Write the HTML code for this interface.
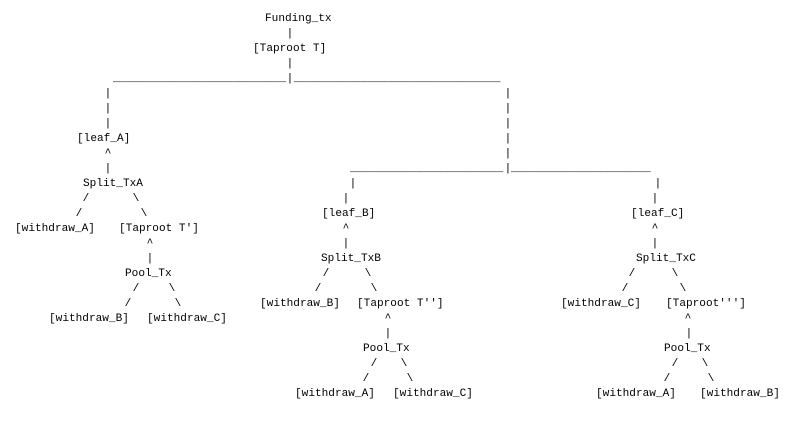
<!DOCTYPE html>
<html><head><meta charset="utf-8"><style>
html,body{margin:0;padding:0;background:#fff;}
#c{position:relative;width:807px;height:426px;overflow:hidden;font-family:"Liberation Mono",monospace;font-size:11.1px;line-height:15px;color:#000;}
#c span{position:absolute;white-space:pre;}
#c span.s{width:8px;text-align:center;margin-left:-4px;}
</style></head><body><div id="c">
<span style="left:265px;top:11.5px">Funding_tx</span>
<span class="s" style="left:290px;top:26.5px">|</span>
<span style="left:253px;top:41.5px">[Taproot T]</span>
<span class="s" style="left:290px;top:56.5px">|</span>
<span style="left:113px;top:71.5px">__________________________</span>
<span class="s" style="left:290px;top:71.5px">|</span>
<span style="left:294px;top:71.5px">_______________________________</span>
<span class="s" style="left:108px;top:86.5px">|</span>
<span class="s" style="left:108px;top:101.5px">|</span>
<span class="s" style="left:108px;top:116.5px">|</span>
<span class="s" style="left:508px;top:86.5px">|</span>
<span class="s" style="left:508px;top:101.5px">|</span>
<span class="s" style="left:508px;top:116.5px">|</span>
<span class="s" style="left:508px;top:131.5px">|</span>
<span class="s" style="left:508px;top:146.5px">|</span>
<span class="s" style="left:508px;top:161.5px">|</span>
<span style="left:77px;top:131.5px">[leaf_A]</span>
<span class="s" style="left:108px;top:146.5px">^</span>
<span class="s" style="left:108px;top:161.5px">|</span>
<span style="left:350px;top:161.5px">_______________________</span>
<span style="left:511px;top:161.5px">_____________________</span>
<span style="left:83px;top:176.5px">Split_TxA</span>
<span class="s" style="left:353px;top:176.5px">|</span>
<span class="s" style="left:658px;top:176.5px">|</span>
<span class="s" style="left:86px;top:191.5px">/</span>
<span class="s" style="left:136px;top:191.5px">\</span>
<span class="s" style="left:346px;top:191.5px">|</span>
<span class="s" style="left:655px;top:191.5px">|</span>
<span class="s" style="left:79px;top:206.5px">/</span>
<span class="s" style="left:144px;top:206.5px">\</span>
<span style="left:322px;top:206.5px">[leaf_B]</span>
<span style="left:631px;top:206.5px">[leaf_C]</span>
<span style="left:15px;top:221.5px">[withdraw_A]</span>
<span style="left:119px;top:221.5px">[Taproot T']</span>
<span class="s" style="left:346px;top:221.5px">^</span>
<span class="s" style="left:655px;top:221.5px">^</span>
<span class="s" style="left:150px;top:236.5px">^</span>
<span class="s" style="left:346px;top:236.5px">|</span>
<span class="s" style="left:655px;top:236.5px">|</span>
<span class="s" style="left:150px;top:251.5px">|</span>
<span style="left:321px;top:251.5px">Split_TxB</span>
<span style="left:636px;top:251.5px">Split_TxC</span>
<span style="left:125px;top:266.5px">Pool_Tx</span>
<span class="s" style="left:326px;top:266.5px">/</span>
<span class="s" style="left:368px;top:266.5px">\</span>
<span class="s" style="left:632px;top:266.5px">/</span>
<span class="s" style="left:675px;top:266.5px">\</span>
<span class="s" style="left:136px;top:281.5px">/</span>
<span class="s" style="left:172px;top:281.5px">\</span>
<span class="s" style="left:318px;top:281.5px">/</span>
<span class="s" style="left:374px;top:281.5px">\</span>
<span class="s" style="left:625px;top:281.5px">/</span>
<span class="s" style="left:683px;top:281.5px">\</span>
<span class="s" style="left:128px;top:296.5px">/</span>
<span class="s" style="left:178px;top:296.5px">\</span>
<span style="left:260px;top:296.5px">[withdraw_B]</span>
<span style="left:357px;top:296.5px">[Taproot T'']</span>
<span style="left:561px;top:296.5px">[withdraw_C]</span>
<span style="left:666px;top:296.5px">[Taproot''']</span>
<span style="left:49px;top:311.5px">[withdraw_B]</span>
<span style="left:147px;top:311.5px">[withdraw_C]</span>
<span class="s" style="left:388px;top:311.5px">^</span>
<span class="s" style="left:688px;top:311.5px">^</span>
<span class="s" style="left:388px;top:326.5px">|</span>
<span class="s" style="left:689px;top:326.5px">|</span>
<span style="left:363px;top:341.5px">Pool_Tx</span>
<span style="left:664px;top:341.5px">Pool_Tx</span>
<span class="s" style="left:374px;top:356.5px">/</span>
<span class="s" style="left:404px;top:356.5px">\</span>
<span class="s" style="left:675px;top:356.5px">/</span>
<span class="s" style="left:705px;top:356.5px">\</span>
<span class="s" style="left:366px;top:371.5px">/</span>
<span class="s" style="left:410px;top:371.5px">\</span>
<span class="s" style="left:667px;top:371.5px">/</span>
<span class="s" style="left:711px;top:371.5px">\</span>
<span style="left:295px;top:386.5px">[withdraw_A]</span>
<span style="left:393px;top:386.5px">[withdraw_C]</span>
<span style="left:596px;top:386.5px">[withdraw_A]</span>
<span style="left:700px;top:386.5px">[withdraw_B]</span>
</div></body></html>
